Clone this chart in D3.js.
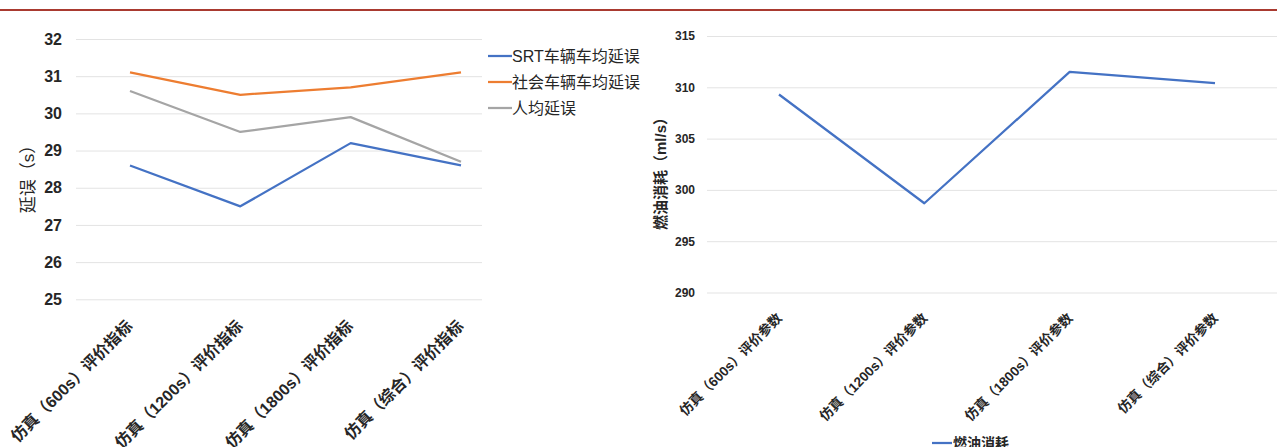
<!DOCTYPE html>
<html>
<head>
<meta charset="utf-8">
<script src="https://cdn.jsdelivr.net/npm/d3@7"></script>
<style>
  html, body { margin: 0; padding: 0; background: #fff; }
  svg { display: block; }
  text { font-family: "Liberation Sans", "Noto Sans CJK SC", sans-serif; fill: #262626; }
</style>
</head>
<body>
<svg id="chart" width="1277" height="447"></svg>
<script>
// Delay comparison (left) and fuel consumption (right) across simulation runs
const delayCategories = ["仿真（600s）评价指标", "仿真（1200s）评价指标", "仿真（1800s）评价指标", "仿真（综合）评价指标"];
const srtDelay = [28.6, 27.5, 29.2, 28.6];
const socialDelay = [31.1, 30.5, 30.7, 31.1];
const perCapitaDelay = [30.6, 29.5, 29.9, 28.7];
const delayTicks = [25, 26, 27, 28, 29, 30, 31, 32];
const delaySeriesNames = ["SRT车辆车均延误", "社会车辆车均延误", "人均延误"];

const fuelCategories = ["仿真（600s）评价参数", "仿真（1200s）评价参数", "仿真（1800s）评价参数", "仿真（综合）评价参数"];
const fuelUse = [309.3, 298.7, 311.5, 310.4];
const fuelTicks = [290, 295, 300, 305, 310, 315];
const fuelSeriesName = "燃油消耗";

const colors = ["#4472C4", "#ED7D31", "#A5A5A5"];
const gridColor = "#e3e3e3";

const svg = d3.select("#chart");

// top rule
svg.append("line")
  .attr("x1", 0).attr("x2", 1277).attr("y1", 10).attr("y2", 10)
  .attr("stroke", "#a93a30").attr("stroke-width", 2);

// ---------- left chart: delays ----------
const L = { left: 76, gridRight: 482, top: 39, bottom: 299.3 };
const xL = d3.scalePoint().domain(delayCategories).range([130, 461]);
const yL = d3.scaleLinear().domain([25, 32]).range([L.bottom, L.top]);

const gL = svg.append("g");
const yAxisL = gL.append("g")
  .attr("transform", `translate(${L.left},0)`)
  .call(d3.axisLeft(yL).tickValues(delayTicks).tickFormat(d3.format("d"))
    .tickSize(-(L.gridRight - L.left)).tickPadding(14));
yAxisL.select(".domain").remove();
yAxisL.selectAll(".tick line").attr("stroke", gridColor).attr("stroke-width", 1);
yAxisL.selectAll(".tick text")
  .attr("font-size", 16).attr("font-weight", "bold").attr("fill", "#262626");

const xAxisL = gL.append("g")
  .attr("transform", `translate(0,${L.bottom})`)
  .call(d3.axisBottom(xL).tickSize(0));
xAxisL.select(".domain").remove();
xAxisL.selectAll(".tick text")
  .attr("x", 0).attr("y", 0).attr("dy", "0.35em")
  .attr("transform", "translate(-1,24) rotate(-45)")
  .attr("text-anchor", "end")
  .attr("font-size", 16).attr("font-weight", "bold").attr("fill", "#262626");

gL.append("text")
  .attr("transform", "translate(28,175) rotate(-90)")
  .attr("text-anchor", "middle").attr("dy", "0.35em")
  .attr("font-size", 17)
  .text("延误（s）");

const lineL = d3.line().x((d, i) => xL(delayCategories[i])).y(d => yL(d));
[srtDelay, socialDelay, perCapitaDelay].forEach((series, k) => {
  gL.append("path")
    .datum(series)
    .attr("d", lineL)
    .attr("fill", "none")
    .attr("stroke", colors[k])
    .attr("stroke-width", 2.25)
    .attr("stroke-linejoin", "round");
});

// legend
const legL = gL.append("g").attr("transform", "translate(488,56)");
delaySeriesNames.forEach((name, k) => {
  const row = legL.append("g").attr("transform", `translate(0,${k * 26})`);
  row.append("line").attr("x1", 0).attr("x2", 24).attr("y1", 0).attr("y2", 0)
    .attr("stroke", colors[k]).attr("stroke-width", 2.25);
  row.append("text").attr("x", 24).attr("dy", "0.35em")
    .attr("font-size", 16).text(name);
});

// ---------- right chart: fuel ----------
const R = { left: 707, gridRight: 1277, top: 36, bottom: 292.5 };
const xR = d3.scalePoint().domain(fuelCategories).range([779, 1215]);
const yR = d3.scaleLinear().domain([290, 315]).range([R.bottom, R.top]);

const gR = svg.append("g");

const yAxisR = gR.append("g")
  .attr("transform", `translate(${R.left},0)`)
  .call(d3.axisLeft(yR).tickValues(fuelTicks).tickFormat(d3.format("d"))
    .tickSize(-(R.gridRight - R.left)).tickPadding(12));
yAxisR.select(".domain").remove();
yAxisR.selectAll(".tick line").attr("stroke", gridColor).attr("stroke-width", 1);
yAxisR.selectAll(".tick text")
  .attr("font-size", 12).attr("font-weight", "bold").attr("fill", "#262626");

const xAxisR = gR.append("g")
  .attr("transform", `translate(0,${R.bottom})`)
  .call(d3.axisBottom(xR).tickSize(0));
xAxisR.select(".domain").remove();
xAxisR.selectAll(".tick text")
  .attr("x", 0).attr("y", 0).attr("dy", "0.35em")
  .attr("transform", "translate(0,23) rotate(-45)")
  .attr("text-anchor", "end")
  .attr("font-size", 13.5).attr("font-weight", "bold").attr("fill", "#262626");

gR.append("text")
  .attr("transform", "translate(661,170) rotate(-90)")
  .attr("text-anchor", "middle").attr("dy", "0.35em")
  .attr("font-size", 15).attr("font-weight", "bold")
  .text("燃油消耗（ml/s）");

const lineR = d3.line().x((d, i) => xR(fuelCategories[i])).y(d => yR(d));
gR.append("path")
  .datum(fuelUse)
  .attr("d", lineR)
  .attr("fill", "none")
  .attr("stroke", colors[0])
  .attr("stroke-width", 2.25)
  .attr("stroke-linejoin", "round");

const legR = gR.append("g").attr("transform", "translate(932,443)");
legR.append("line").attr("x1", 0).attr("x2", 20).attr("y1", 0).attr("y2", 0)
  .attr("stroke", colors[0]).attr("stroke-width", 2.25);
legR.append("text").attr("x", 21).attr("dy", "0.35em")
  .attr("font-size", 14).attr("font-weight", "bold").text(fuelSeriesName);
</script>
</body>
</html>
